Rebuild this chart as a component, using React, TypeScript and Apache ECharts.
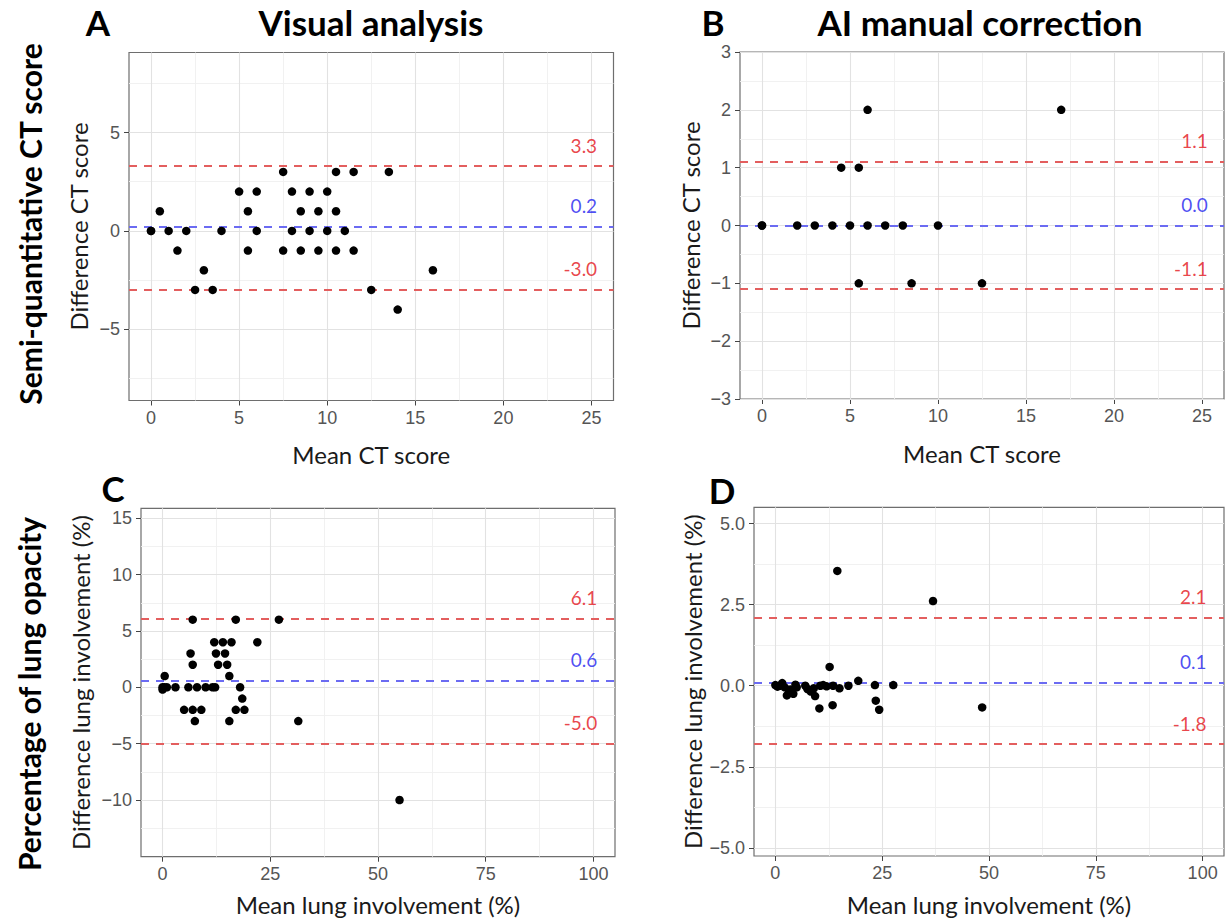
import React, { useEffect, useRef } from 'react';
import * as echarts from 'echarts';

// ---------- Panel A: Visual analysis (CT score) ----------
const aMean = [0, 0, 0.5, 1, 1.5, 2, 2.5, 3, 3.5, 4,
  5, 5.5, 5.5, 6, 6, 7.5, 7.5, 8, 8, 8.5,
  8.5, 9, 9, 9.5, 9.5, 10, 10, 10.5, 10.5, 10.5,
  11, 11.5, 11.5, 12.5, 13.5, 14, 16];
const aDiff = [0, 0, 1, 0, -1, 0, -3, -2, -3, 0,
  2, 1, -1, 2, 0, 3, -1, 2, 0, 1,
  -1, 2, 0, 1, -1, 2, 0, 3, 1, -1,
  0, 3, -1, -3, 3, -4, -2];
const aLimits = [3.3, 0.2, -3.0];
const aLimitLabels = ['3.3', '0.2', '-3.0'];

// ---------- Panel B: AI manual correction (CT score) ----------
const bMean = [0, 0, 2, 3, 4, 4.5, 5, 5.5, 5.5, 6,
  6, 7, 8, 8.5, 10, 12.5, 17];
const bDiff = [0, 0, 0, 0, 0, 1, 0, 1, -1, 2,
  0, 0, 0, -1, 0, -1, 2];
const bLimits = [1.1, 0.0, -1.1];
const bLimitLabels = ['1.1', '0.0', '-1.1'];

// ---------- Panel C: Visual analysis (lung involvement %) ----------
const cMean = [0, 0, 0.4, 1, 0.5, 3, 6, 8, 10, 11.6,
  12.2, 18, 6.5, 7, 7, 12, 14, 16, 12.4, 14.5,
  12.9, 15, 15.5, 17, 27, 22, 18.5, 5, 7, 9,
  17, 19, 7.5, 15.5, 31.5, 55];
const cDiff = [0, -0.2, 0, 0, 1, 0, 0, 0, 0, 0,
  0, 0, 3, 2, 6, 4, 4, 4, 3, 3,
  2, 2, 1, 6, 6, 4, -1, -2, -2, -2,
  -2, -2, -3, -3, -3, -10];
const cLimits = [6.1, 0.6, -5.0];
const cLimitLabels = ['6.1', '0.6', '-5.0'];

// ---------- Panel D: AI manual correction (lung involvement %) ----------
const dMean = [0, 0.5, 1, 1.6, 2.2, 2.7, 3.2, 3.5, 4.2, 4.7,
  5, 7, 7.5, 8.3, 9, 9.3, 10.3, 10.5, 11.2, 12,
  12.7, 13.4, 13.5, 14.5, 15, 17.1, 19.4, 23.3, 23.5, 24.3,
  27.6, 36.9, 48.4];
const dDiff = [0.02, -0.03, 0, 0.08, -0.05, -0.3, -0.2, -0.12, -0.25, 0.03,
  -0.05, 0, -0.1, -0.18, -0.08, -0.32, -0.7, 0, 0.02, -0.02,
  0.58, -0.6, 0, 3.54, -0.08, 0, 0.15, 0.02, -0.46, -0.74,
  0.02, 2.61, -0.67];
const dLimits = [2.1, 0.1, -1.8];
const dLimitLabels = ['2.1', '0.1', '-1.8'];

// ---------- Axis ticks ----------
const ctXMajor = [0, 5, 10, 15, 20, 25];
const ctXLabels = ['0', '5', '10', '15', '20', '25'];
const ctXMinor = [2.5, 7.5, 12.5, 17.5, 22.5];

const aYMajor = [-5, 0, 5];
const aYLabels = ['\u22125', '0', '5'];
const aYMinor = [-7.5, -2.5, 2.5, 7.5];

const bYMajor = [-3, -2, -1, 0, 1, 2, 3];
const bYLabels = ['\u22123', '\u22122', '\u22121', '0', '1', '2', '3'];
const bYMinor = [-2.5, -1.5, -0.5, 0.5, 1.5, 2.5];

const pctXMajor = [0, 25, 50, 75, 100];
const pctXLabels = ['0', '25', '50', '75', '100'];
const pctXMinor = [12.5, 37.5, 62.5, 87.5];

const cYMajor = [-10, -5, 0, 5, 10, 15];
const cYLabels = ['\u221210', '\u22125', '0', '5', '10', '15'];
const cYMinor = [-12.5, -7.5, -2.5, 2.5, 7.5, 12.5];

const dYMajor = [-5, -2.5, 0, 2.5, 5];
const dYLabels = ['\u22125.0', '\u22122.5', '0.0', '2.5', '5.0'];
const dYMinor = [-3.75, -1.25, 1.25, 3.75];

const TICK_FONT = '"Liberation Sans", Arial, sans-serif';
const TITLE_FONT = 'Lato, "Open Sans", sans-serif';
const RED_LINE = '#E35E5E';
const BLUE_LINE = '#6B6BF2';
const RED_TEXT = '#E3141B';
const BLUE_TEXT = '#1F1FEF';

type Panel = {
  grid: { left: number; top: number; width: number; height: number };
  xMin: number; xMax: number; yMin: number; yMax: number;
  xMajor: number[]; xMinor: number[]; xLabels: string[];
  yMajor: number[]; yMinor: number[]; yLabels: string[];
  xName: string; yName: string; xNameGap: number; yNameGap: number;
  mean: number[]; diff: number[];
  limits: number[]; limitLabels: string[]; labelX: number;
};

const panels: Panel[] = [
  {
    grid: { left: 129, top: 52.5, width: 484.5, height: 348 },
    xMin: -1.25, xMax: 26.25, yMin: -8.62, yMax: 9.07,
    xMajor: ctXMajor, xMinor: ctXMinor, xLabels: ctXLabels,
    yMajor: aYMajor, yMinor: aYMinor, yLabels: aYLabels,
    xName: 'Mean CT score', yName: 'Difference CT score', xNameGap: 42, yNameGap: 39,
    mean: aMean, diff: aDiff, limits: aLimits, limitLabels: aLimitLabels, labelX: 25.35,
  },
  {
    grid: { left: 740, top: 52, width: 484, height: 347 },
    xMin: -1.25, xMax: 26.25, yMin: -3, yMax: 3,
    xMajor: ctXMajor, xMinor: ctXMinor, xLabels: ctXLabels,
    yMajor: bYMajor, yMinor: bYMinor, yLabels: bYLabels,
    xName: 'Mean CT score', yName: 'Difference CT score', xNameGap: 42, yNameGap: 38,
    mean: bMean, diff: bDiff, limits: bLimits, limitLabels: bLimitLabels, labelX: 25.35,
  },
  {
    grid: { left: 141, top: 508.3, width: 474, height: 348.4 },
    xMin: -5, xMax: 105, yMin: -15.03, yMax: 15.88,
    xMajor: pctXMajor, xMinor: pctXMinor, xLabels: pctXLabels,
    yMajor: cYMajor, yMinor: cYMinor, yLabels: cYLabels,
    xName: 'Mean lung involvement (%)', yName: 'Difference lung involvement (%)', xNameGap: 36, yNameGap: 49,
    mean: cMean, diff: cDiff, limits: cLimits, limitLabels: cLimitLabels, labelX: 101,
  },
  {
    grid: { left: 754, top: 507.3, width: 470, height: 348.7 },
    xMin: -5, xMax: 105, yMin: -5.25, yMax: 5.5,
    xMajor: pctXMajor, xMinor: pctXMinor, xLabels: pctXLabels,
    yMajor: dYMajor, yMinor: dYMinor, yLabels: dYLabels,
    xName: 'Mean lung involvement (%)', yName: 'Difference lung involvement (%)', xNameGap: 36, yNameGap: 50,
    mean: dMean, diff: dDiff, limits: dLimits, limitLabels: dLimitLabels, labelX: 101,
  },
];

function buildOption() {
  const majorStyle = { color: '#E2E2E2', width: 1.1, type: 'solid' };
  const minorStyle = { color: '#EFEFEF', width: 0.9, type: 'solid' };
  const nameStyle = { fontSize: 24, fontFamily: TITLE_FONT, color: '#1a1a1a' };

  const grid = panels.map((p) => ({
    left: p.grid.left, top: p.grid.top, width: p.grid.width, height: p.grid.height,
    show: true, borderColor: '#6e6e6e', borderWidth: 1.2, backgroundColor: '#ffffff',
  }));

  const xAxis = panels.map((p, i) => ({
    type: 'value', gridIndex: i, min: p.xMin, max: p.xMax,
    axisLine: { show: false, onZero: false },
    axisTick: { show: true, customValues: p.xMajor, length: 5, lineStyle: { color: '#444', width: 1 } },
    axisLabel: {
      show: true, customValues: p.xMajor, margin: 8, color: '#555', fontSize: 18, fontFamily: TICK_FONT,
      formatter: (v: number) => p.xLabels[p.xMajor.indexOf(v)] ?? '',
    },
    splitLine: { show: false },
    name: p.xName, nameLocation: 'middle', nameGap: p.xNameGap, nameTextStyle: nameStyle,
  }));

  const yAxis = panels.map((p, i) => ({
    type: 'value', gridIndex: i, min: p.yMin, max: p.yMax,
    axisLine: { show: false, onZero: false },
    axisTick: { show: true, customValues: p.yMajor, length: 5, lineStyle: { color: '#444', width: 1 } },
    axisLabel: {
      show: true, customValues: p.yMajor, margin: 9, color: '#555', fontSize: 18, fontFamily: TICK_FONT,
      formatter: (v: number) => p.yLabels[p.yMajor.indexOf(v)] ?? '',
    },
    splitLine: { show: false },
    name: p.yName, nameLocation: 'middle', nameGap: p.yNameGap, nameTextStyle: nameStyle,
  }));

  const series: any[] = [];
  panels.forEach((p, i) => {
    // gridlines
    series.push({
      type: 'scatter', xAxisIndex: i, yAxisIndex: i, data: [], silent: true, z: 1,
      markLine: {
        silent: true, symbol: 'none', animation: false, label: { show: false },
        lineStyle: { type: 'solid' },
        emphasis: { disabled: true },
        data: [
          ...p.xMinor.map((v) => ({ xAxis: v, lineStyle: minorStyle })),
          ...p.yMinor.map((v) => ({ yAxis: v, lineStyle: minorStyle })),
          ...p.xMajor.map((v) => ({ xAxis: v, lineStyle: majorStyle })),
          ...p.yMajor.map((v) => ({ yAxis: v, lineStyle: majorStyle })),
        ],
      },
    });
    // bias & limits of agreement
    series.push({
      type: 'scatter', xAxisIndex: i, yAxisIndex: i, data: [], silent: true, z: 3,
      markLine: {
        silent: true, symbol: 'none', animation: false, label: { show: false },
        emphasis: { disabled: true },
        data: p.limits.map((v, k) => ({
          yAxis: v,
          lineStyle: { color: k === 1 ? BLUE_LINE : RED_LINE, width: 2, type: [8, 7] },
        })),
      },
    });
    // points
    series.push({
      type: 'scatter', xAxisIndex: i, yAxisIndex: i, z: 5, silent: true,
      symbol: 'circle', symbolSize: 8.5, itemStyle: { color: '#000000', opacity: 1 },
      emphasis: { disabled: true },
      data: p.mean.map((m, k) => [m, p.diff[k]]),
    });
    // limit labels
    series.push({
      type: 'scatter', xAxisIndex: i, yAxisIndex: i, z: 6, silent: true,
      symbolSize: 1, itemStyle: { color: 'rgba(0,0,0,0)' },
      emphasis: { disabled: true },
      label: {
        show: true, position: 'left', distance: 0, offset: [0, -21],
        fontSize: 19, fontFamily: TITLE_FONT,
        formatter: (prm: any) => p.limitLabels[prm.dataIndex],
      },
      data: p.limits.map((v, k) => ({
        value: [p.labelX, v],
        label: { color: k === 1 ? BLUE_TEXT : RED_TEXT },
      })),
    });
  });

  const bold = (size: number) => `bold ${size}px ${TITLE_FONT}`;
  const txt = (x: number, y: number, text: string, size: number, rot = 0) => ({
    type: 'text', x, y, rotation: rot,
    style: { text, font: bold(size), fill: '#000', align: 'center', verticalAlign: 'middle' },
  });
  const graphic = [
    txt(98, 22, 'A', 35),
    txt(371, 22, 'Visual analysis', 35),
    txt(713, 22, 'B', 35),
    txt(980, 22, 'AI manual correction', 35),
    txt(113, 488, 'C', 35),
    txt(722, 490, 'D', 35),
    txt(30, 224, 'Semi-quantitative CT score', 30, Math.PI / 2),
    txt(29, 694, 'Percentage of lung opacity', 30, Math.PI / 2),
  ];

  return {
    animation: false,
    backgroundColor: '#ffffff',
    grid, xAxis, yAxis, series, graphic,
  };
}

export default function App() {
  const ref = useRef<HTMLDivElement>(null);
  useEffect(() => {
    if (!ref.current) return;
    const chart = echarts.init(ref.current, undefined, { renderer: 'svg' });
    chart.setOption(buildOption() as any);
    return () => chart.dispose();
  }, []);
  return (
    <div
      ref={ref}
      style={{ position: 'fixed', left: 0, top: 0, width: 1225, height: 922, background: '#fff' }}
    />
  );
}
